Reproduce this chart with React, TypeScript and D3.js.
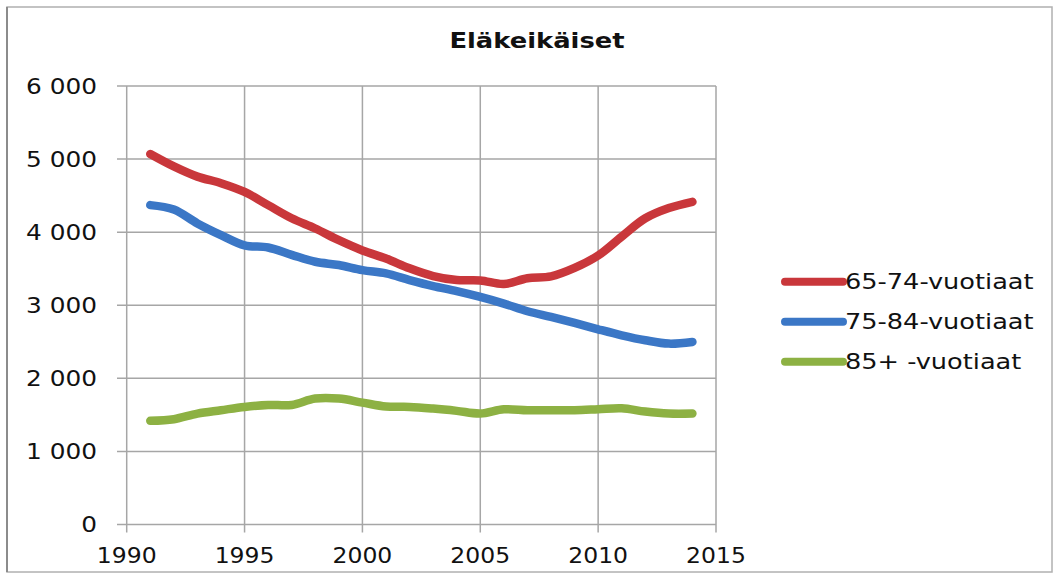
import React from 'react'
import * as d3 from 'd3'

const years = [1991, 1992, 1993, 1994, 1995, 1996, 1997, 1998, 1999, 2000, 2001, 2002, 2003, 2004, 2005, 2006, 2007, 2008, 2009, 2010, 2011, 2012, 2013, 2014]

const age65to74 = [5070, 4900, 4760, 4670, 4550, 4370, 4190, 4050, 3890, 3750, 3640, 3505, 3400, 3345, 3340, 3290, 3370, 3395, 3510, 3680, 3940, 4190, 4330, 4415]
const age75to84 = [4370, 4310, 4120, 3960, 3820, 3790, 3690, 3595, 3550, 3480, 3436, 3345, 3263, 3194, 3114, 3023, 2918, 2840, 2758, 2671, 2589, 2521, 2475, 2498]
const age85plus = [1418, 1441, 1518, 1564, 1609, 1636, 1636, 1723, 1723, 1668, 1614, 1609, 1586, 1555, 1518, 1577, 1564, 1564, 1564, 1577, 1591, 1545, 1518, 1518]

const seriesNames = ['65-74-vuotiaat', '75-84-vuotiaat', '85+ -vuotiaat']
const seriesColors = ['#c9373b', '#3b77c6', '#8db143']
const yTicks = [0, 1000, 2000, 3000, 4000, 5000, 6000]
const xTicks = [1990, 1995, 2000, 2005, 2010, 2015]
const title = 'Eläkeikäiset'

const W = 1057
const H = 578
const font = '"DejaVu Sans", sans-serif'
const grid = '#a6a6a6'

const yLabel = (v: number) => (v >= 1000 ? `${Math.floor(v / 1000)} ${String(v % 1000).padStart(3, '0')}` : String(v))

export default function App() {
  const x = d3.scaleLinear().domain([1990, 2015]).range([126.7, 716])
  const y = d3.scaleLinear().domain([0, 6000]).range([524.5, 86])

  const line = d3
    .line<number>()
    .x((_, i) => x(years[i]))
    .y((d) => y(d))
    .curve(d3.curveCatmullRom.alpha(0.5))

  const series = [age65to74, age75to84, age85plus]

  return (
    <svg width={W} height={H} style={{ position: 'absolute', left: 0, top: 0, background: '#fff' }}>
      <rect x={0} y={0} width={W} height={H} fill="#fff" />
      <rect x={7} y={7} width={1045} height={565} fill="none" stroke="#b0b0b0" strokeWidth={1.5} />
      <line x1={7} x2={7} y1={7} y2={572} stroke="#8c8c8c" strokeWidth={2} />

      <text
        transform={`translate(537,48) scale(1.2,1)`}
        textAnchor="middle"
        fontFamily={font}
        fontWeight="bold"
        fontSize={21.5}
        fill="#111"
      >
        {title}
      </text>

      {/* grid */}
      {yTicks.map((t) => (
        <line key={'gy' + t} x1={117} x2={x(2015)} y1={y(t)} y2={y(t)} stroke={grid} strokeWidth={1.5} />
      ))}
      {xTicks.map((t) => (
        <line key={'gx' + t} x1={x(t)} x2={x(t)} y1={y(6000)} y2={y(0) + 8} stroke={grid} strokeWidth={1.5} />
      ))}

      {/* y labels */}
      {yTicks.map((t) => (
        <text
          key={'ly' + t}
          transform={`translate(97,${y(t) + 7.5}) scale(1.18,1)`}
          textAnchor="end"
          fontFamily={font}
          fontSize={21}
          fill="#111"
        >
          {yLabel(t)}
        </text>
      ))}

      {/* x labels */}
      {xTicks.map((t) => (
        <text
          key={'lx' + t}
          transform={`translate(${x(t)},563) scale(1.12,1)`}
          textAnchor="middle"
          fontFamily={font}
          fontSize={21}
          fill="#111"
        >
          {t}
        </text>
      ))}

      {/* lines */}
      {series.map((s, i) => (
        <path
          key={'s' + i}
          d={line(s) ?? ''}
          fill="none"
          stroke={seriesColors[i]}
          strokeWidth={8.5}
          strokeLinecap="round"
          strokeLinejoin="round"
        />
      ))}

      {/* legend */}
      {seriesNames.map((n, i) => {
        const ly = 281.7 + i * 40
        return (
          <g key={'lg' + i}>
            <line x1={785} x2={843} y1={ly} y2={ly} stroke={seriesColors[i]} strokeWidth={8} strokeLinecap="round" />
            <text
              transform={`translate(845,${ly + 7.5}) scale(1.22,1)`}
              fontFamily={font}
              fontSize={21}
              fill="#111"
            >
              {n}
            </text>
          </g>
        )
      })}
    </svg>
  )
}
